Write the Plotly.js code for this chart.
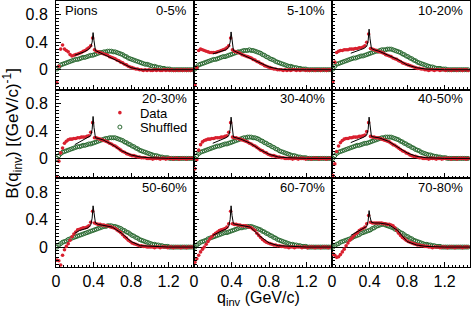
<!DOCTYPE html>
<html><head><meta charset="utf-8">
<script src="https://cdn.plot.ly/plotly-3.0.1.min.js"></script>
<style>html,body{margin:0;padding:0;background:#fff}#chart{width:471px;height:311px}</style>
</head><body><div id="chart"></div>
<script>
// q_inv bin centres (GeV/c)
const q = [0.01,0.03,0.05,0.07,0.09,0.11,0.13,0.15,0.17,0.19,
0.21,0.23,0.25,0.27,0.29,0.31,0.33,0.35,0.37,0.39,
0.41,0.43,0.45,0.47,0.49,0.51,0.53,0.55,0.57,0.59,
0.61,0.63,0.65,0.67,0.69,0.71,0.73,0.75,0.77,0.79,
0.81,0.83,0.85,0.87,0.89,0.91,0.93,0.95,0.97,0.99,
1.01,1.03,1.05,1.07,1.09,1.11,1.13,1.15,1.17,1.19,
1.21,1.23,1.25,1.27,1.29,1.31,1.33,1.35,1.37,1.39,
1.41,1.43,1.45];

const centralities = ['0-5%','5-10%','10-20%','20-30%','30-40%','40-50%','50-60%','60-70%','70-80%'];

const data05 = [-0.19,0.05,0.30,0.36,0.30,0.28,0.26,0.22,0.20,0.21,
0.22,0.23,0.24,0.25,0.27,0.28,0.30,0.32,0.35,0.46,
0.29,0.27,0.26,0.25,0.24,0.23,0.22,0.21,0.19,0.18,
0.17,0.16,0.14,0.13,0.11,0.10,0.08,0.07,0.05,0.04,
0.03,0.02,0.01,0.01,0.00,0.00,-0.01,0.00,-0.01,0.00,
-0.01,-0.01,0.00,-0.01,0.00,-0.01,-0.01,0.00,-0.01,0.00,
-0.01,0.00,-0.01,-0.01,0.00,-0.01,0.00,-0.01,0.00,-0.01,
0.00,-0.01,0.00];
const shuf05 = [0.01,0.04,0.07,0.08,0.09,0.10,0.11,0.12,0.13,0.14,
0.15,0.15,0.16,0.17,0.18,0.18,0.19,0.20,0.21,0.21,
0.22,0.23,0.24,0.25,0.25,0.26,0.26,0.27,0.27,0.27,
0.26,0.26,0.25,0.24,0.23,0.22,0.20,0.19,0.17,0.16,
0.15,0.14,0.13,0.12,0.11,0.10,0.09,0.08,0.08,0.07,
0.06,0.05,0.05,0.04,0.03,0.03,0.02,0.02,0.01,0.01,
0.01,0,0,0,0,0,0,0,0,0,
0,0,0];

const data510 = [-0.22,0.03,0.28,0.30,0.29,0.28,0.27,0.26,0.25,0.25,
0.25,0.25,0.26,0.27,0.28,0.29,0.30,0.32,0.35,0.46,
0.29,0.27,0.26,0.25,0.24,0.22,0.21,0.20,0.19,0.18,
0.17,0.15,0.14,0.12,0.11,0.09,0.08,0.06,0.05,0.04,
0.03,0.02,0.01,0.01,0.00,0.00,0.00,-0.01,0.00,-0.01,
0.00,-0.01,0.00,0.00,-0.01,0.00,-0.01,0.00,0.00,-0.01,
0.00,-0.01,0.00,0.00,-0.01,0.00,0.00,-0.01,0.00,0.00,
-0.01,0.00,0.00];
const shuf510 = [0.01,0.04,0.07,0.08,0.09,0.10,0.11,0.12,0.13,0.14,
0.15,0.15,0.16,0.17,0.18,0.19,0.19,0.20,0.21,0.22,
0.23,0.24,0.25,0.26,0.26,0.27,0.28,0.28,0.28,0.29,
0.28,0.28,0.27,0.26,0.25,0.24,0.22,0.21,0.19,0.18,
0.16,0.15,0.14,0.12,0.11,0.10,0.09,0.08,0.07,0.06,
0.05,0.05,0.04,0.03,0.03,0.02,0.02,0.01,0.01,0.01,
0,0,0,0,0,0,0,0,0,0,
0,0,0];

const data1020 = [-0.17,0.11,0.25,0.27,0.28,0.28,0.29,0.29,0.29,0.30,
0.30,0.30,0.31,0.31,0.32,0.32,0.33,0.35,0.40,0.52,
0.31,0.30,0.29,0.28,0.27,0.26,0.25,0.24,0.22,0.21,
0.20,0.19,0.17,0.16,0.15,0.13,0.12,0.10,0.09,0.08,
0.07,0.06,0.05,0.04,0.03,0.02,0.02,0.01,0.01,0.00,
0.00,-0.01,0.00,0.00,-0.01,0.00,0.00,-0.01,0.00,0.00,
-0.01,0.00,0.00,-0.01,0.00,0.00,-0.01,0.00,0.00,-0.01,
0.00,0.00,-0.01];
const shuf1020 = [0.01,0.05,0.08,0.09,0.10,0.11,0.12,0.13,0.14,0.15,
0.16,0.17,0.17,0.18,0.19,0.20,0.20,0.21,0.22,0.23,
0.24,0.25,0.26,0.27,0.27,0.28,0.29,0.29,0.29,0.30,
0.30,0.30,0.29,0.28,0.27,0.26,0.25,0.23,0.22,0.20,
0.19,0.17,0.16,0.14,0.13,0.11,0.10,0.09,0.08,0.07,
0.06,0.05,0.04,0.04,0.03,0.02,0.02,0.02,0.01,0.01,
0.01,0,0,0,0,0,0,0,0,0,
0,0,0];

const data2030 = [-0.28,-0.04,0.08,0.15,0.22,0.25,0.27,0.28,0.28,0.29,
0.29,0.30,0.30,0.31,0.31,0.31,0.32,0.33,0.38,0.52,
0.30,0.30,0.29,0.28,0.27,0.26,0.25,0.24,0.22,0.21,
0.19,0.18,0.16,0.14,0.12,0.10,0.09,0.07,0.06,0.05,
0.04,0.04,0.03,0.02,0.02,0.01,0.01,0.01,0.00,0.00,
0.00,-0.01,0.00,0.00,0.00,-0.01,0.00,0.00,-0.01,0.00,
0.00,0.00,-0.01,0.00,0.00,-0.01,0.00,0.00,0.00,-0.01,
0.00,0.00,0.00];
const shuf2030 = [0.00,0.04,0.07,0.09,0.10,0.11,0.12,0.13,0.14,0.15,
0.16,0.17,0.17,0.18,0.19,0.19,0.20,0.21,0.21,0.22,
0.23,0.24,0.25,0.26,0.27,0.28,0.29,0.29,0.30,0.30,
0.30,0.30,0.29,0.28,0.27,0.26,0.24,0.23,0.21,0.20,
0.18,0.17,0.15,0.14,0.12,0.11,0.10,0.09,0.08,0.07,
0.06,0.05,0.04,0.04,0.03,0.02,0.02,0.01,0.01,0.01,
0,0,0,0,0,0,0,0,0,0,
0,0,0];

const data3040 = [-0.15,-0.02,0.12,0.20,0.24,0.26,0.27,0.28,0.28,0.29,
0.29,0.30,0.30,0.30,0.31,0.31,0.32,0.33,0.38,0.52,
0.31,0.30,0.30,0.29,0.28,0.27,0.26,0.25,0.24,0.22,
0.21,0.19,0.18,0.16,0.14,0.12,0.11,0.09,0.08,0.06,
0.05,0.04,0.04,0.03,0.02,0.02,0.01,0.01,0.00,0.00,
0.00,0.00,-0.01,0.00,0.00,-0.01,0.00,0.00,0.00,-0.01,
0.00,0.00,-0.01,0.00,0.00,0.00,-0.01,0.00,0.00,0.00,
-0.01,0.00,0.00];
const shuf3040 = [0.00,0.04,0.07,0.09,0.10,0.11,0.12,0.13,0.14,0.15,
0.16,0.17,0.18,0.18,0.19,0.20,0.21,0.21,0.22,0.23,
0.24,0.25,0.26,0.27,0.28,0.29,0.30,0.30,0.31,0.31,
0.31,0.30,0.30,0.29,0.28,0.26,0.25,0.23,0.22,0.20,
0.19,0.17,0.16,0.14,0.13,0.11,0.10,0.09,0.08,0.07,
0.06,0.05,0.04,0.04,0.03,0.02,0.02,0.01,0.01,0.01,
0,0,0,0,0,0,0,0,0,0,
0,0,0];

const data4050 = [-0.25,-0.08,0.10,0.18,0.23,0.26,0.28,0.29,0.29,0.30,
0.30,0.31,0.31,0.31,0.32,0.32,0.33,0.34,0.39,0.52,
0.32,0.31,0.31,0.30,0.30,0.29,0.28,0.27,0.26,0.25,
0.24,0.22,0.20,0.19,0.17,0.15,0.13,0.11,0.10,0.08,
0.07,0.05,0.04,0.03,0.03,0.02,0.01,0.01,0.00,0.00,
0.00,-0.01,0.00,0.00,0.00,-0.01,0.00,0.00,-0.01,0.00,
0.00,0.00,0.00,-0.01,0.00,0.00,-0.01,0.00,0.00,0.00,
0.00,-0.01,0.00];
const shuf4050 = [0.00,0.04,0.07,0.09,0.10,0.11,0.12,0.13,0.14,0.15,
0.16,0.17,0.18,0.19,0.19,0.20,0.21,0.22,0.22,0.23,
0.24,0.25,0.26,0.27,0.28,0.29,0.30,0.30,0.31,0.31,
0.31,0.31,0.30,0.29,0.28,0.27,0.25,0.24,0.22,0.21,
0.19,0.18,0.16,0.15,0.13,0.12,0.11,0.09,0.08,0.07,
0.06,0.05,0.05,0.04,0.03,0.03,0.02,0.02,0.01,0.01,
0.01,0,0,0,0,0,0,0,0,0,
0,0,0];

const data5060 = [-0.19,-0.20,-0.26,-0.12,-0.04,0.01,0.05,0.10,0.15,0.19,
0.22,0.25,0.26,0.27,0.28,0.28,0.29,0.31,0.36,0.52,
0.35,0.34,0.33,0.33,0.32,0.32,0.31,0.31,0.30,0.29,
0.28,0.27,0.25,0.23,0.21,0.18,0.15,0.13,0.10,0.08,
0.06,0.05,0.04,0.03,0.02,0.02,0.01,0.01,0.00,0.00,
0.00,0.00,-0.01,0.00,0.00,-0.01,0.00,0.00,0.00,-0.01,
0.00,0.00,-0.01,0.00,0.00,0.00,-0.01,0.00,0.00,-0.01,
0.00,0.00,0.00];
const shuf5060 = [0.00,0.03,0.05,0.07,0.08,0.09,0.11,0.12,0.13,0.14,
0.15,0.16,0.17,0.18,0.19,0.20,0.21,0.22,0.23,0.24,
0.25,0.26,0.27,0.28,0.29,0.30,0.30,0.31,0.31,0.31,
0.30,0.30,0.29,0.28,0.27,0.25,0.24,0.22,0.21,0.19,
0.17,0.16,0.14,0.13,0.11,0.10,0.09,0.08,0.07,0.06,
0.05,0.04,0.04,0.03,0.03,0.02,0.02,0.01,0.01,0.01,
0,0,0,0,0,0,0,0,0,0,
0,0,0];

const data6070 = [-0.22,-0.17,-0.12,-0.07,-0.03,0.00,0.04,0.08,0.12,0.15,
0.18,0.20,0.22,0.24,0.25,0.26,0.27,0.29,0.34,0.52,
0.34,0.33,0.33,0.32,0.32,0.31,0.31,0.31,0.30,0.29,
0.28,0.26,0.24,0.20,0.17,0.14,0.11,0.09,0.07,0.06,
0.05,0.04,0.03,0.03,0.02,0.02,0.01,0.01,0.00,0.00,
-0.01,0.00,0.00,-0.01,0.00,0.00,0.00,-0.01,0.00,0.00,
-0.01,0.00,0.00,0.00,-0.01,0.00,0.00,-0.01,0.00,0.00,
0.00,-0.01,0.00];
const shuf6070 = [0.00,0.03,0.05,0.07,0.08,0.09,0.10,0.12,0.13,0.14,
0.15,0.16,0.17,0.18,0.19,0.20,0.21,0.21,0.22,0.23,
0.24,0.25,0.26,0.27,0.28,0.28,0.29,0.29,0.30,0.30,
0.30,0.29,0.28,0.27,0.26,0.25,0.23,0.22,0.20,0.19,
0.17,0.16,0.14,0.13,0.11,0.10,0.09,0.08,0.07,0.06,
0.05,0.04,0.04,0.03,0.03,0.02,0.02,0.01,0.01,0.01,
0,0,0,0,0,0,0,0,0,0,
0,0,0];

const data7080 = [-0.10,-0.12,-0.15,-0.14,-0.11,-0.07,-0.03,0.02,0.06,0.10,
0.13,0.16,0.19,0.21,0.24,0.26,0.27,0.29,0.34,0.46,
0.36,0.35,0.35,0.35,0.35,0.35,0.35,0.34,0.34,0.33,
0.33,0.32,0.31,0.28,0.24,0.20,0.17,0.14,0.12,0.10,
0.08,0.07,0.06,0.05,0.04,0.03,0.03,0.02,0.02,0.01,
0.01,0.00,0.00,-0.01,0.00,0.00,0.00,-0.01,0.00,0.00,
0.00,-0.01,0.00,0.00,0.00,-0.01,0.00,0.00,0.00,-0.01,
0.00,0.00,0.00];
const shuf7080 = [0.00,0.02,0.04,0.05,0.07,0.08,0.09,0.10,0.11,0.12,
0.13,0.15,0.16,0.17,0.18,0.20,0.21,0.22,0.23,0.24,
0.25,0.27,0.28,0.30,0.31,0.32,0.33,0.33,0.32,0.31,
0.30,0.29,0.28,0.26,0.25,0.23,0.21,0.20,0.18,0.16,
0.15,0.13,0.12,0.10,0.09,0.08,0.07,0.06,0.05,0.04,
0.04,0.03,0.03,0.02,0.02,0.01,0.01,0.01,0,0,
0,0,0,0,0,0,0,0,0,0,
0,0,0];

// model curve (black line)
const fitQ = [0.2,0.25,0.3,0.34,0.37,0.385,0.395,0.405,0.42,0.45,0.5,0.6,0.7,0.8,0.9,1.0,1.2,1.47];
const fit05   = [0.21,0.23,0.26,0.29,0.33,0.40,0.54,0.42,0.28,0.26,0.23,0.17,0.10,0.03,0.00,0,0,0];
const fit510  = [0.23,0.25,0.27,0.29,0.33,0.40,0.55,0.42,0.28,0.26,0.23,0.17,0.10,0.04,0.01,0,0,0];
const fit1020 = [0.24,0.27,0.29,0.31,0.34,0.42,0.59,0.45,0.31,0.29,0.27,0.21,0.15,0.07,0.03,0.01,0,0];
const fit2030 = [0.20,0.24,0.27,0.30,0.33,0.42,0.61,0.45,0.30,0.29,0.27,0.20,0.11,0.05,0.02,0.01,0,0];
const fit3040 = [0.22,0.25,0.28,0.30,0.33,0.42,0.60,0.45,0.31,0.30,0.28,0.22,0.13,0.06,0.02,0.01,0,0];
const fit4050 = [0.23,0.26,0.28,0.31,0.34,0.42,0.60,0.46,0.32,0.31,0.30,0.25,0.17,0.08,0.03,0.01,0,0];
const fit5060 = [0.20,0.24,0.26,0.28,0.32,0.42,0.60,0.46,0.35,0.33,0.32,0.29,0.20,0.08,0.02,0.01,0,0];
const fit6070 = [0.17,0.21,0.24,0.26,0.30,0.40,0.60,0.46,0.34,0.33,0.32,0.29,0.16,0.06,0.02,0.01,0,0];
const fit7080 = [0.17,0.21,0.25,0.27,0.30,0.38,0.53,0.44,0.36,0.35,0.35,0.33,0.24,0.08,0.03,0.01,0,0];

const xTickVals = [0,0.4,0.8,1.2];
const xTickText = ['0','0.4','0.8','1.2'];
const yTickVals = [0,0.4,0.8];
const yTickText = ['0','0.4','0.8'];

const dataSets = [data05,data510,data1020,data2030,data3040,data4050,data5060,data6070,data7080];
const shufSets = [shuf05,shuf510,shuf1020,shuf2030,shuf3040,shuf4050,shuf5060,shuf6070,shuf7080];
const fitSets  = [fit05,fit510,fit1020,fit2030,fit3040,fit4050,fit5060,fit6070,fit7080];

const FONT = 'Liberation Sans, Arial, Helvetica, sans-serif';
const RED = '#d9202f';
const GREEN = '#2b6a32';

const traces = [];
const layout = {
  width: 471, height: 311,
  margin: {l: 56, r: 1, t: 1, b: 44},
  paper_bgcolor: '#fff', plot_bgcolor: '#fff',
  font: {family: FONT, size: 16, color: '#000'},
  showlegend: true,
  legend: {x: 0.106, xanchor: 'left', y: 0.58, yanchor: 'middle', bgcolor: 'rgba(0,0,0,0)',
           borderwidth: 0, font: {family: FONT, size: 13, color: '#000'}, itemwidth: 30},
  legend2: {x: 0.106, xanchor: 'left', y: 0.526, yanchor: 'middle', bgcolor: 'rgba(0,0,0,0)',
           borderwidth: 0, font: {family: FONT, size: 13, color: '#000'}, itemwidth: 30},
  annotations: []
};

centralities.forEach((label, k) => {
  const n = k + 1;
  const xa = n === 1 ? 'x' : 'x' + n;
  const ya = n === 1 ? 'y' : 'y' + n;
  const col = k % 3, row = Math.floor(k / 3);
  traces.push({type: 'scatter', mode: 'markers', x: q, y: shufSets[k], xaxis: xa, yaxis: ya,
    name: 'Shuffled', legendgroup: 'shuf', legend: 'legend2', showlegend: k === 3, legendrank: 2,
    marker: {symbol: 'circle-open', size: 4, color: GREEN, line: {width: 1, color: GREEN}},
    hoverinfo: 'skip'});
  traces.push({type: 'scatter', mode: 'markers', x: q, y: dataSets[k], xaxis: xa, yaxis: ya,
    name: 'Data', legendgroup: 'data', legend: 'legend', showlegend: k === 3, legendrank: 1,
    marker: {symbol: 'circle', size: 3.6, color: RED}, hoverinfo: 'skip'});
  traces.push({type: 'scatter', mode: 'lines', x: fitQ, y: fitSets[k], xaxis: xa, yaxis: ya,
    showlegend: false, line: {color: '#000', width: 1}, hoverinfo: 'skip'});

  const xname = n === 1 ? 'xaxis' : 'xaxis' + n;
  const yname = n === 1 ? 'yaxis' : 'yaxis' + n;
  layout[xname] = {
    domain: [col / 3, (col + 1) / 3], anchor: ya, range: [0, 1.47],
    showline: true, linecolor: '#000', linewidth: 1, mirror: true,
    showgrid: false, zeroline: false,
    tickmode: 'array', tickvals: xTickVals, ticktext: xTickText,
    ticks: 'inside', ticklen: 5, tickcolor: '#000', tickwidth: 1,
    minor: {ticks: 'inside', ticklen: 2.5, tick0: 0, dtick: 0.04, tickcolor: '#000', tickwidth: 1, showgrid: false},
    showticklabels: row === 2, ticklabelstandoff: 0,
    tickfont: {family: FONT, size: 16, color: '#000'}
  };
  layout[yname] = {
    domain: [(2 - row) / 3, (3 - row) / 3], anchor: xa, range: [-0.29, 1.0],
    showline: true, linecolor: '#000', linewidth: 1, mirror: true,
    showgrid: false, zeroline: true, zerolinecolor: k < 2 ? '#666' : '#000', zerolinewidth: 1,
    tickmode: 'array', tickvals: yTickVals, ticktext: yTickText,
    ticks: 'inside', ticklen: 5, tickcolor: '#000', tickwidth: 1,
    minor: {ticks: 'inside', ticklen: 2.5, tick0: 0, dtick: 0.05, tickcolor: '#000', tickwidth: 1, showgrid: false},
    showticklabels: col === 0, ticklabelstandoff: 4,
    tickfont: {family: FONT, size: 16, color: '#000'}
  };
  layout.annotations.push({
    text: label, xref: xa + ' domain', yref: ya + ' domain', x: 0.964, y: 0.898,
    xanchor: 'right', yanchor: 'middle', showarrow: false,
    font: {family: FONT, size: 13, color: '#000'}
  });
});

layout.annotations.push({
  text: 'Pions', xref: 'x domain', yref: 'y domain', x: 0.05, y: 0.898,
  xanchor: 'left', yanchor: 'middle', showarrow: false,
  font: {family: FONT, size: 13, color: '#000'}
});
layout.annotations.push({
  text: 'B(q<sub>inv</sub>) [(GeV/c)<sup>-1</sup>]', xref: 'paper', yref: 'paper',
  x: -0.105, y: 0.503, xanchor: 'center', yanchor: 'middle', textangle: -90, showarrow: false,
  font: {family: FONT, size: 17, color: '#000'}
});
layout.annotations.push({
  text: 'q<sub>inv</sub> (GeV/c)', xref: 'paper', yref: 'paper',
  x: 0.49, y: -0.12, xanchor: 'center', yanchor: 'middle', showarrow: false,
  font: {family: FONT, size: 16, color: '#000'}
});

Plotly.newPlot('chart', traces, layout, {staticPlot: true, displayModeBar: false});
</script>
</body></html>
